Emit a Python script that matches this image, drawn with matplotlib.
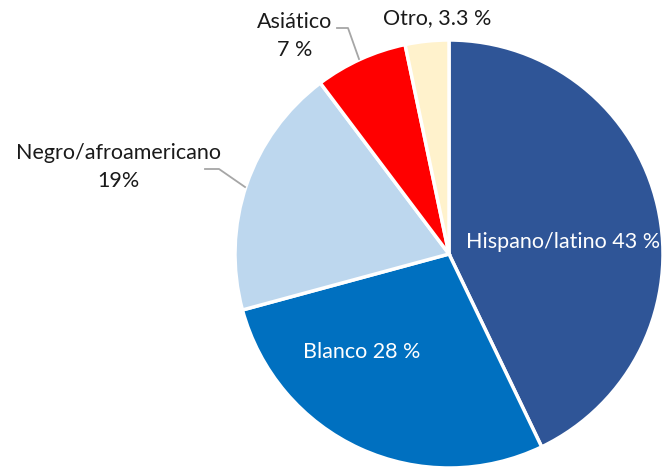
import matplotlib
matplotlib.use("Agg")
import matplotlib.pyplot as plt

categories = ["Hispano/latino", "Blanco", "Negro/afroamericano", "Asiático", "Otro"]
values = [43, 28, 19, 7, 3.3]
value_labels = ["43 %", "28 %", "19%", "7 %", "3.3 %"]
colors = ["#2F5597", "#0070C0", "#BDD7EE", "#FF0000", "#FFF2CC"]

W, H = 663, 470
fig = plt.figure(figsize=(W / 100, H / 100), dpi=100)
ax = fig.add_axes([0, 0, 1, 1])

cx, cy, r = 449, H - 254, 214
ax.pie(values, colors=colors, startangle=90, counterclock=False,
       center=(cx, cy), radius=r,
       wedgeprops=dict(edgecolor="white", linewidth=2.5), frame=True)
ax.set_xlim(0, W)
ax.set_ylim(0, H)
ax.set_aspect("equal")
ax.axis("off")

font = ["Lato", "DejaVu Sans"]
fs = 15.5
lc = "#A6A6A6"
tc = "#1a1a1a"

def Y(y):
    return H - y

# inside labels
ax.text(563, Y(242), f"{categories[0]} {value_labels[0]}", color="white",
        ha="center", va="center", fontsize=fs, family=font)
ax.text(362, Y(352), f"{categories[1]} {value_labels[1]}", color="white",
        ha="center", va="center", fontsize=fs, family=font)

# outside labels
ax.text(118, Y(167), f"{categories[2]}\n{value_labels[2]}", color=tc,
        ha="center", va="center", fontsize=fs, family=font, linespacing=1.45)
ax.plot([205, 219, 245], [Y(169), Y(169), Y(187)], color=lc, lw=1.3)

ax.text(295, Y(36), f"{categories[3]}\n{value_labels[3]}", color=tc,
        ha="center", va="center", fontsize=fs, family=font, linespacing=1.45)
ax.plot([337, 348, 359], [Y(28), Y(28), Y(59)], color=lc, lw=1.3)

ax.text(437, Y(18), f"{categories[4]}, {value_labels[4]}", color=tc,
        ha="center", va="center", fontsize=fs, family=font)

fig.savefig("out.png", dpi=100)
